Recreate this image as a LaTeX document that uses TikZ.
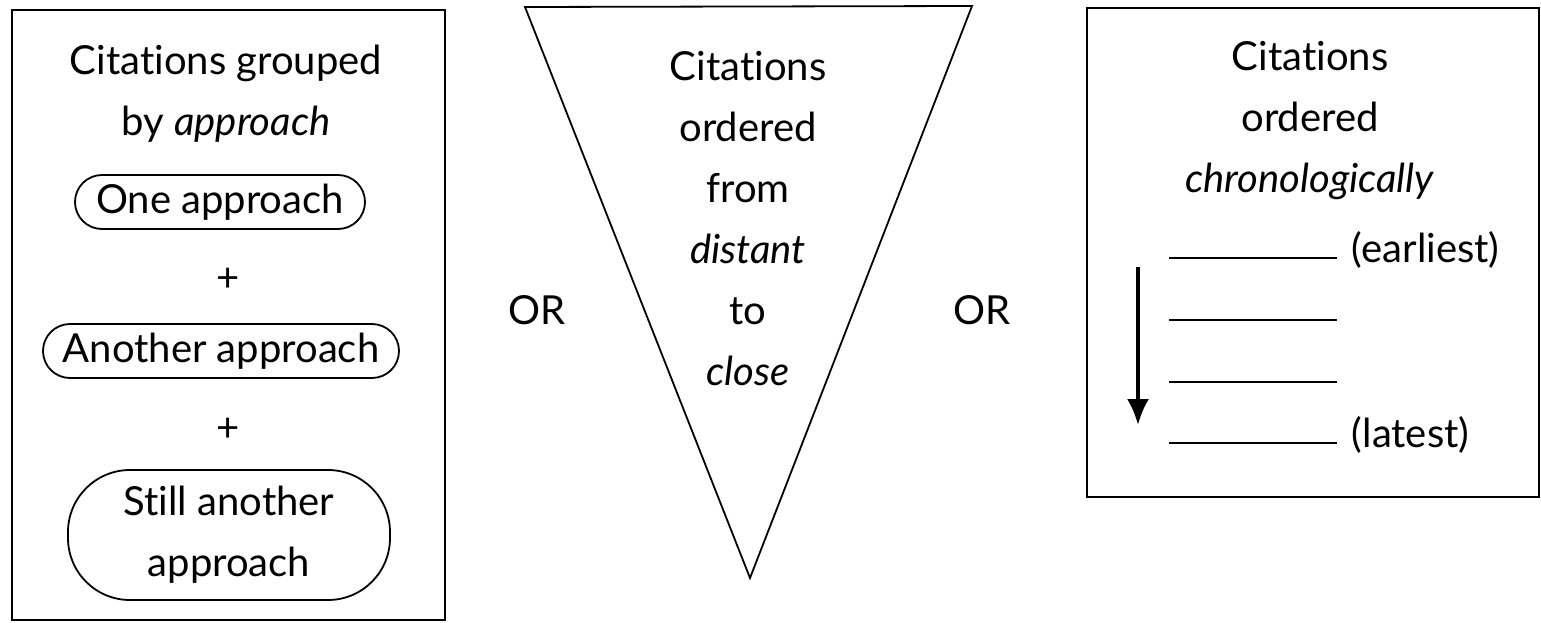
\documentclass[tikz,border=0pt]{standalone}
\usepackage{fontspec}
\setmainfont{Lato}[Ligatures=NoCommon]
\usetikzlibrary{arrows.meta}

\begin{document}
\begin{tikzpicture}[x=1pt, y=-1pt, line width=1.8pt,
	every node/.style={font=\fontsize{40}{61}\selectfont, align=center, inner sep=0pt},
	pill/.style={draw, rounded corners=27pt, minimum height=54pt},
	>={Latex[length=26pt,width=22pt]}]
	\useasboundingbox (0,0) rectangle (1541,623);
	% grouped by approach
	\draw (12,10) rectangle (445,620);
	\node (grp) at (226,94) {Citations grouped\\by \textit{approach}};
	\node[pill, minimum width=290pt] (one) at (220,202) {One approach};
	\node (plus1) at (228,280) {+};
	\node[pill, minimum width=356pt] (another) at (221,351) {Another approach};
	\node (plus2) at (228,430) {+};
	\node[pill, rounded corners=62pt, minimum width=322pt, minimum height=130pt] (still) at (229,535) {Still another\\approach};
	% distant to close
	\node (or1) at (537,310) {OR};
	\draw (525,7) -- (972,6) -- (750,578) -- cycle;
	\node (dist) at (748,219) {Citations\\ordered\\from\\\textit{distant}\\to\\\textit{close}};
	\node (or2) at (982,310) {OR};
	% chronologically
	\draw (1087,8) rectangle (1539,497);
	\node (chrono) at (1310,121) {Citations\\ordered\\\textit{chronologically}};
	\foreach \y [count=\i] in {258,320,382,443}
		\draw (1169,\y) coordinate (l\i) -- (1337,\y) coordinate (r\i);
	\node[anchor=base west, xshift=14pt, yshift=-4pt] (early) at (r1) {(earliest)};
	\node[anchor=base west, xshift=14pt, yshift=-4pt] (late) at (r4) {(latest)};
	\coordinate (atop) at (1138,267);
	\coordinate (abot) at (1138,425);
	\draw[->, line width=3.5pt] (atop) -- (abot);
\end{tikzpicture}
\end{document}
